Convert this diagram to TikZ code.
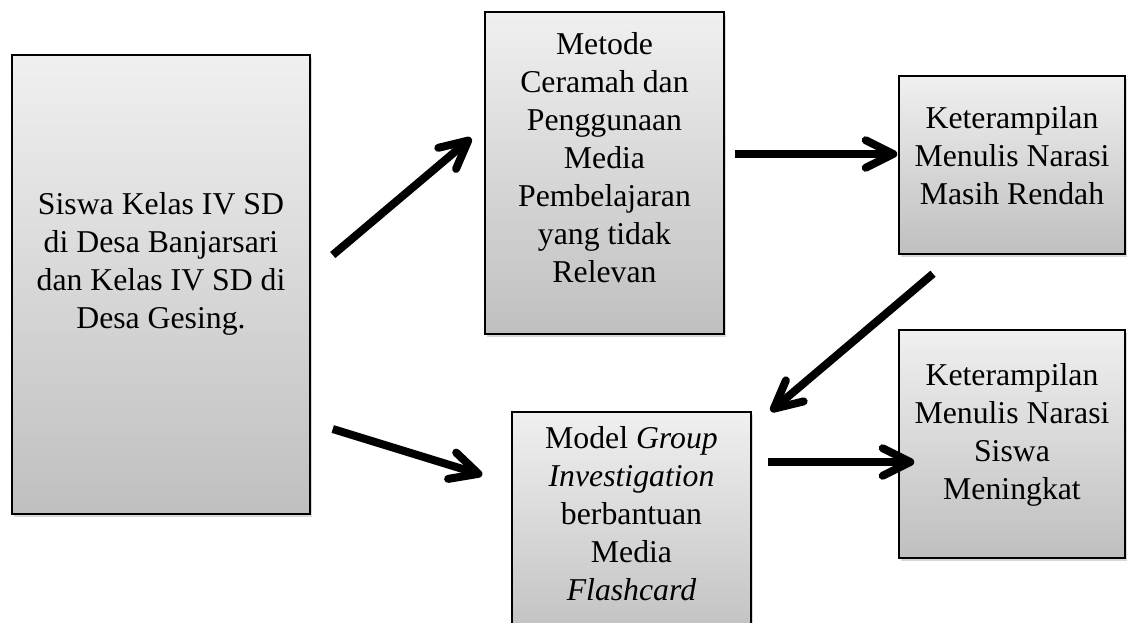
\documentclass[tikz,border=0pt]{standalone}
\usepackage{fontspec}
\setmainfont{Liberation Serif}
\usetikzlibrary{arrows.meta,shadows}
\newcommand{\lastgap}[1]{\rule[-#1]{0pt}{#1}}
\tikzset{
	box/.style={draw, line width=0.6pt, top color=gray!12, bottom color=gray!50, align=center, inner sep=2pt, font=\fontsize{12.7}{15.2}\selectfont, drop shadow={shadow xshift=0.8pt, shadow yshift=-1.2pt, opacity=0.3}},
	arr/.style={line width=3.2pt, -{Straight Barb[length=11pt,width=11pt,round]}}
}

\begin{document}
\begin{tikzpicture}[x=0.4pt,y=-0.4pt]
			\useasboundingbox (0,0) rectangle (1127,622);
			\clip (0,0) rectangle (1127,622);
			\node (siswa)[box, minimum width=119.2pt, minimum height=183.6pt]at (161,284.5) {Siswa Kelas IV SD\\di Desa Banjarsari\\dan Kelas IV SD di\\Desa Gesing.\lastgap{19.6pt}};
			\node (metode)[box, minimum width=95.6pt, minimum height=128.8pt]at (604.5,173) {Metode\\Ceramah dan\\Penggunaan\\Media\\Pembelajaran\\yang tidak\\Relevan\lastgap{12.4pt}};
			\node (rendah)[box, minimum width=90.4pt, minimum height=71.2pt]at (1012,165) {Keterampilan\\Menulis Narasi\\Masih Rendah\lastgap{8pt}};
			\node (model)[box, minimum width=95.6pt, minimum height=93.2pt]at (631.5,528.5) {Model \textit{Group}\\\textit{Investigation}\\berbantuan\\Media\\\textit{Flashcard}\lastgap{12pt}};
			\node (meningkat)[box, minimum width=90.4pt, minimum height=91.2pt]at (1012,444) {Keterampilan\\Menulis Narasi\\Siswa\\Meningkat\lastgap{10.4pt}};

			\draw[arr] ([shift={(22,-29.5)}]siswa.east)--([shift={(-13,-35)}]metode.west);
			\draw[arr] ([shift={(22,144.5)}]siswa.east)--([shift={(-29,-53.5)}]model.west);
			\draw[arr] ([shift={(10,-19)}]metode.east)--([shift={(-1,-11)}]rendah.west);
			\draw[arr] ([shift={(-79,19)}]rendah.south)--([shift={(19,0)}]model.north east);
			\draw[arr] ([shift={(16,-66.5)}]model.east)--([shift={(16,18)}]meningkat.west);
		\end{tikzpicture}
\end{document}
